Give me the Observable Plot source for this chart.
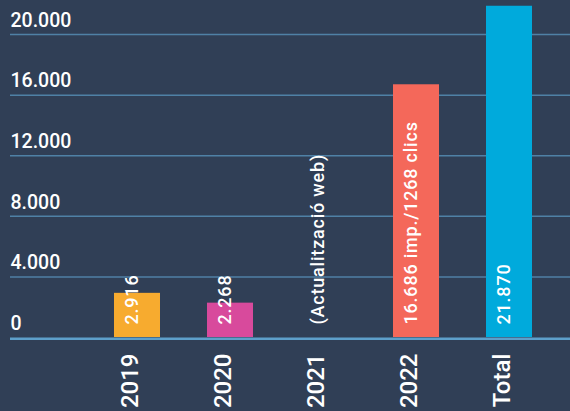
<!DOCTYPE html>
<html><head><meta charset="utf-8">
<script src="https://cdn.jsdelivr.net/npm/d3@7"></script>
<script src="https://cdn.jsdelivr.net/npm/@observablehq/plot@0.6"></script>
<style>html,body{margin:0;padding:0;background:#303f56;overflow:hidden;}</style>
</head><body><div id="chart"></div>
<script>
const categories = ["2019", "2020", "2021", "2022", "Total"];
const values = [2916, 2268, null, 16686, 21870];
const barLabels = ["2.916", "2.268", "(Actualització web)", "16.686 imp./1268 clics", "21.870"];
const barColors = ["#f7ab2f", "#d84a9c", "#303f56", "#f4685a", "#00aadc"];
const yTicks = [0, 4000, 8000, 12000, 16000, 20000];
const yTickLabels = ["0", "4.000", "8.000", "12.000", "16.000", "20.000"];

const data = categories.map((c, i) => ({category: c, value: values[i], label: barLabels[i]}));
const ticks = yTicks.map((v, i) => ({v, label: yTickLabels[i]}));

const chart = Plot.plot({
  width: 570,
  height: 411,
  marginTop: 0,
  marginBottom: 74,
  marginLeft: 10,
  marginRight: 0,
  style: {fontFamily: "Roboto, sans-serif", background: "#303f56", color: "white"},
  x: {domain: categories, paddingInner: 0.507, paddingOuter: 0.756, align: 0.733, axis: null},
  y: {domain: [0, 22250], axis: null},
  color: {domain: categories, range: barColors},
  marks: [
    Plot.ruleY(yTicks.slice(1), {stroke: "#4f81a6", strokeWidth: 1.5}),
    Plot.ruleY([0], {stroke: "#5d9fca", strokeWidth: 2.4, dy: 1.2}),
    Plot.barY(data.filter(d => d.value != null), {x: "category", y: "value", fill: "category"}),
    Plot.text(ticks, {y: "v", text: "label", frameAnchor: "left", textAnchor: "start", dy: -14, fill: "white", fontSize: 19.5, fontWeight: 500}),
    Plot.text(data, {x: "category", text: "label", frameAnchor: "bottom", rotate: -90, textAnchor: "start", dy: -13, fill: "white", fontSize: 18, fontWeight: 500, className: "vlab"}),
    Plot.text(data, {x: "category", text: "category", frameAnchor: "bottom", rotate: -90, textAnchor: "end", dy: 16, fill: "white", fontSize: 24, fontWeight: 500})
  ]
});
chart.querySelectorAll(".vlab text").forEach(t => t.setAttribute("letter-spacing", "0.8"));
document.getElementById("chart").appendChild(chart);
</script>
</body></html>
